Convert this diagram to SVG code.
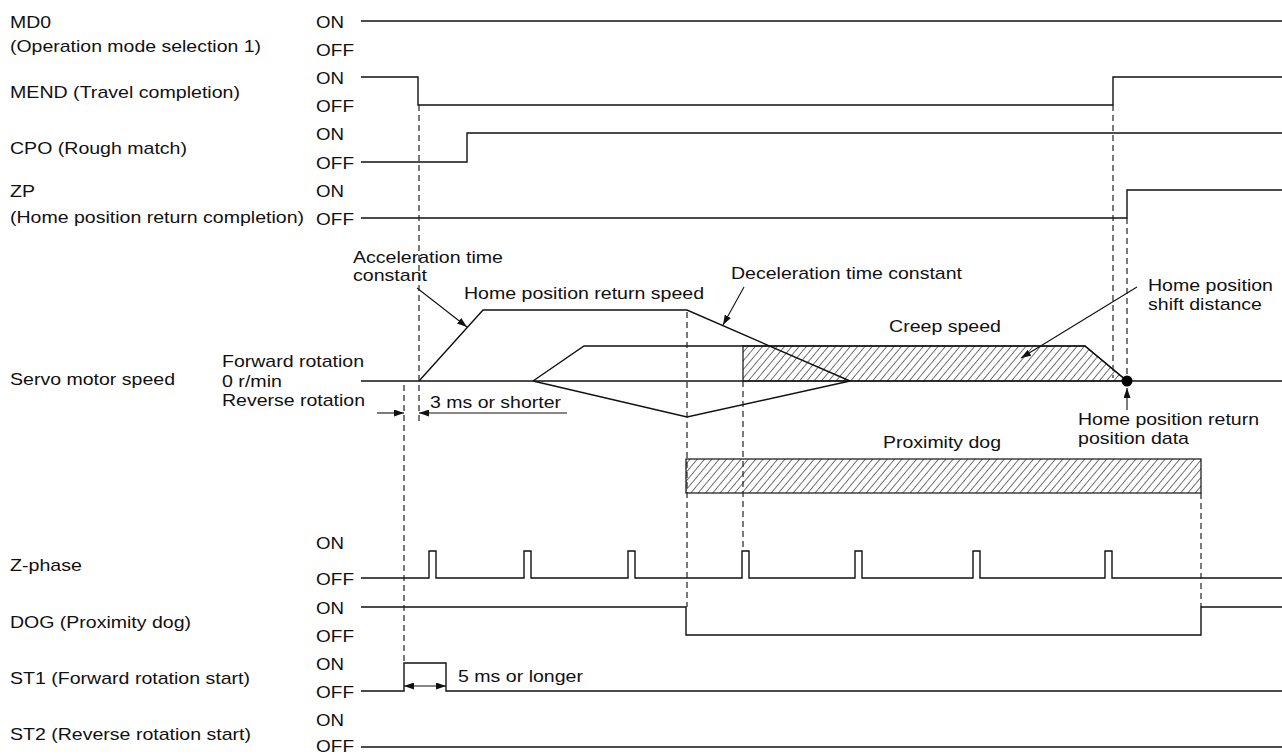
<svg xmlns="http://www.w3.org/2000/svg" width="1282" height="755" viewBox="0 0 1282 755">
<style>
text{font-family:"Liberation Sans",Arial,sans-serif;font-size:17px;fill:#111}
.sig{fill:none;stroke:#111;stroke-width:1.4}
.dash{fill:none;stroke:#222;stroke-width:1.2;stroke-dasharray:6 4}
.lead{fill:none;stroke:#111;stroke-width:1.1}
</style>
<defs>
<pattern id="hatch" patternUnits="userSpaceOnUse" width="5.6" height="10" patternTransform="rotate(40)">
<line x1="0" y1="-1" x2="0" y2="11" stroke="#000" stroke-width="1.1"/>
</pattern>
<marker id="ah" markerUnits="userSpaceOnUse" markerWidth="10" markerHeight="7" refX="10" refY="3.5" orient="auto-start-reverse">
<path d="M0,0 L10,3.5 L0,7 Z" fill="#111"/>
</marker>
</defs>
<rect width="1282" height="755" fill="#fff"/>

<g id="md0">
<text x="10" y="28" textLength="41" lengthAdjust="spacingAndGlyphs">MD0</text>
<text x="10" y="52" textLength="251" lengthAdjust="spacingAndGlyphs">(Operation mode selection 1)</text>
<text x="316" y="28" textLength="28" lengthAdjust="spacingAndGlyphs">ON</text>
<text x="316" y="56" textLength="38" lengthAdjust="spacingAndGlyphs">OFF</text>
<path class="sig" d="M361,21 H1282"/>
</g>

<g id="mend">
<text x="10" y="98" textLength="230" lengthAdjust="spacingAndGlyphs">MEND (Travel completion)</text>
<text x="316" y="84" textLength="28" lengthAdjust="spacingAndGlyphs">ON</text>
<text x="316" y="112" textLength="38" lengthAdjust="spacingAndGlyphs">OFF</text>
<path class="sig" d="M361,77 H418 V105 H1113 V77 H1282"/>
</g>

<g id="cpo">
<text x="10" y="154" textLength="177" lengthAdjust="spacingAndGlyphs">CPO (Rough match)</text>
<text x="316" y="140" textLength="28" lengthAdjust="spacingAndGlyphs">ON</text>
<text x="316" y="169" textLength="38" lengthAdjust="spacingAndGlyphs">OFF</text>
<path class="sig" d="M361,162 H467 V133 H1282"/>
</g>

<g id="zp">
<text x="10" y="197" textLength="25" lengthAdjust="spacingAndGlyphs">ZP</text>
<text x="10" y="223" textLength="294" lengthAdjust="spacingAndGlyphs">(Home position return completion)</text>
<text x="316" y="197" textLength="28" lengthAdjust="spacingAndGlyphs">ON</text>
<text x="316" y="225" textLength="38" lengthAdjust="spacingAndGlyphs">OFF</text>
<path class="sig" d="M361,218 H1127 V190 H1282"/>
</g>

<g id="speed">
<text x="10" y="385" textLength="165" lengthAdjust="spacingAndGlyphs">Servo motor speed</text>
<text x="222" y="367" textLength="142" lengthAdjust="spacingAndGlyphs">Forward rotation</text>
<text x="222" y="387" textLength="60" lengthAdjust="spacingAndGlyphs">0 r/min</text>
<text x="222" y="406" textLength="143" lengthAdjust="spacingAndGlyphs">Reverse rotation</text>
<path class="sig" d="M361,381 H1282"/>
<path d="M743,346 H1085 L1127,381 H743 Z" fill="url(#hatch)" stroke="#111" stroke-width="1.2"/>
<path class="sig" d="M419,381 L483,310 L687,310 L850,381"/>
<path class="sig" d="M533,381 L584,346 L1085,346 L1127,381"/>
<path class="sig" d="M533,381 L687,417 L850,381"/>
<circle cx="1127" cy="381" r="5.5" fill="#000"/>
<text x="353" y="263" textLength="150" lengthAdjust="spacingAndGlyphs">Acceleration time</text>
<text x="353" y="281" textLength="74" lengthAdjust="spacingAndGlyphs">constant</text>
<text x="464" y="299" textLength="240" lengthAdjust="spacingAndGlyphs">Home position return speed</text>
<text x="731" y="279" textLength="231" lengthAdjust="spacingAndGlyphs">Deceleration time constant</text>
<text x="889" y="332" textLength="112" lengthAdjust="spacingAndGlyphs">Creep speed</text>
<text x="1148" y="291" textLength="125" lengthAdjust="spacingAndGlyphs">Home position</text>
<text x="1148" y="310" textLength="114" lengthAdjust="spacingAndGlyphs">shift distance</text>
<text x="1078" y="425" textLength="181" lengthAdjust="spacingAndGlyphs">Home position return</text>
<text x="1078" y="444" textLength="111" lengthAdjust="spacingAndGlyphs">position data</text>
<text x="430" y="408" textLength="131" lengthAdjust="spacingAndGlyphs">3 ms or shorter</text>
</g>

<g id="proximity-dog">
<rect x="686" y="459" width="515" height="34" fill="url(#hatch)" stroke="#111" stroke-width="1.2"/>
<text x="883" y="448" textLength="118" lengthAdjust="spacingAndGlyphs">Proximity dog</text>
</g>

<g id="z-phase">
<text x="10" y="571" textLength="72" lengthAdjust="spacingAndGlyphs">Z-phase</text>
<text x="316" y="549" textLength="28" lengthAdjust="spacingAndGlyphs">ON</text>
<text x="316" y="585" textLength="38" lengthAdjust="spacingAndGlyphs">OFF</text>
<path class="sig" d="M361,578 H429 V551 H436 V578 H524 V551 H531 V578 H628 V551 H635 V578 H742 V551 H749 V578 H855 V551 H862 V578 H973 V551 H980 V578 H1105 V551 H1112 V578 H1282"/>
</g>

<g id="dog">
<text x="10" y="628" textLength="181" lengthAdjust="spacingAndGlyphs">DOG (Proximity dog)</text>
<text x="316" y="614" textLength="28" lengthAdjust="spacingAndGlyphs">ON</text>
<text x="316" y="642" textLength="38" lengthAdjust="spacingAndGlyphs">OFF</text>
<path class="sig" d="M361,607 H686 V635 H1201 V607 H1282"/>
</g>

<g id="st1">
<text x="10" y="684" textLength="240" lengthAdjust="spacingAndGlyphs">ST1 (Forward rotation start)</text>
<text x="316" y="670" textLength="28" lengthAdjust="spacingAndGlyphs">ON</text>
<text x="316" y="698" textLength="38" lengthAdjust="spacingAndGlyphs">OFF</text>
<path class="sig" d="M361,691 H404 V663 H446 V691 H1282"/>
<text x="458" y="682" textLength="125" lengthAdjust="spacingAndGlyphs">5 ms or longer</text>
</g>

<g id="st2">
<text x="10" y="740" textLength="241" lengthAdjust="spacingAndGlyphs">ST2 (Reverse rotation start)</text>
<text x="316" y="726" textLength="28" lengthAdjust="spacingAndGlyphs">ON</text>
<text x="316" y="752" textLength="38" lengthAdjust="spacingAndGlyphs">OFF</text>
<path class="sig" d="M361,747 H1282"/>
</g>

<g id="connectors">
<path class="dash" d="M419,105 V425"/>
<path class="dash" d="M404,385 V663"/>
<path class="dash" d="M687,312 V607"/>
<path class="dash" d="M743,381 V551"/>
<path class="dash" d="M1113,105 V378"/>
<path class="dash" d="M1127,218 V376"/>
<path class="dash" d="M1201,493 V607"/>
<path class="lead" d="M417,288 L467,327" marker-end="url(#ah)"/>
<path class="lead" d="M744,287 L723,325" marker-end="url(#ah)"/>
<path class="lead" d="M1137,287 L1021,358" marker-end="url(#ah)"/>
<path class="lead" d="M1127,410 L1127,388" marker-end="url(#ah)"/>
<path class="lead" d="M377,413 L404,413" marker-end="url(#ah)"/>
<path class="lead" d="M567,413 L419,413" marker-end="url(#ah)"/>
<path class="lead" d="M404,686 L446,686" marker-start="url(#ah)" marker-end="url(#ah)"/>
</g>
</svg>
